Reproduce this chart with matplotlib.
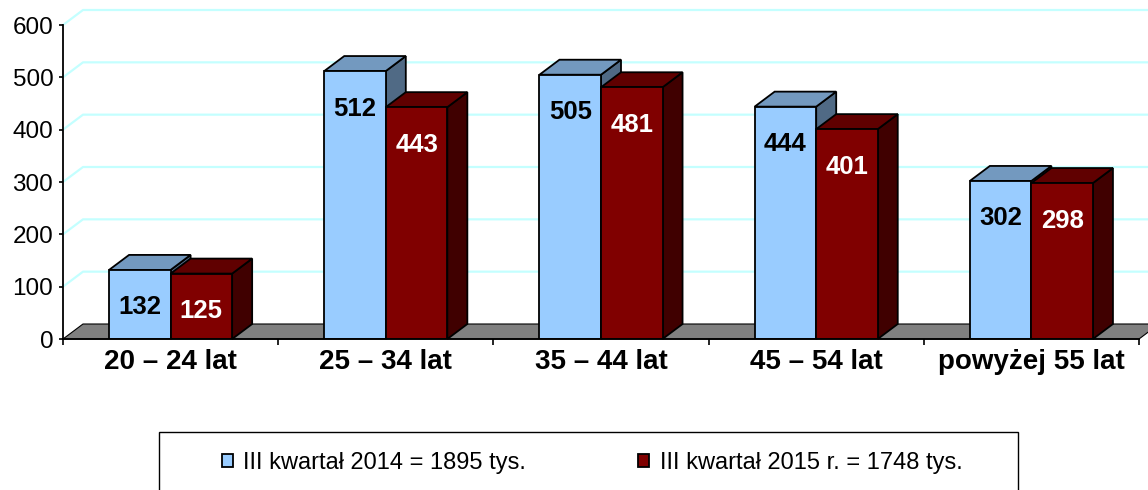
import matplotlib
matplotlib.use("Agg")
import matplotlib.pyplot as plt
from matplotlib.patches import Polygon, Rectangle, Patch
import numpy as np

plt.rcParams['font.family'] = ['Liberation Sans', 'DejaVu Sans']

# ---- data ----
categories = ['20 – 24 lat', '25 – 34 lat', '35 – 44 lat', '45 – 54 lat', 'powyżej 55 lat']
values_2014 = [132, 512, 505, 444, 302]
values_2015 = [125, 443, 481, 401, 298]
series_labels = ['III kwartał 2014 = 1895 tys.', 'III kwartał 2015 r. = 1748 tys.']
y_ticks = [0, 100, 200, 300, 400, 500, 600]

# ---- styles ----
BLUE_FRONT, BLUE_TOP, BLUE_SIDE = '#99ccff', '#7399bf', '#506a85'
RED_FRONT, RED_TOP, RED_SIDE = '#800000', '#600000', '#400000'
GRID = '#c4ffff'

W, H = 1148, 490
fig = plt.figure(figsize=(W / 100, H / 100), dpi=100)
ax = fig.add_axes([63 / W, 1 - 339 / H, 1076 / W, 314 / H])
ax.set_xlim(-0.5, len(categories) - 0.5)
ax.set_ylim(y_ticks[0], y_ticks[-1])

# depth offset: 20 px right, 15 px up, converted to data units
px_per_x = 1076 / len(categories)
px_per_y = 314 / (y_ticks[-1] - y_ticks[0])
DX = 20 / px_per_x
DY = 15 / px_per_y

xmin, xmax = ax.get_xlim()

# back-wall gridlines with side-wall diagonal
for v in y_ticks[1:]:
    ax.plot([xmin, xmin + DX, xmax + DX + 0.2], [v, v + DY, v + DY],
            color=GRID, lw=1.6, clip_on=False, zorder=0.5)

# floor
ax.add_patch(Polygon([(xmin, 0), (xmax, 0), (xmax + DX, DY), (xmin + DX, DY)],
                     closed=True, fc='#808080', ec='black', lw=0.8,
                     clip_on=False, zorder=1))

x = np.arange(len(categories))
bw = 0.286
EDGE_LW = 1.3


def faces(xl, h, top, side, z):
    ax.add_patch(Polygon([(xl + bw, 0), (xl + bw + DX, DY), (xl + bw + DX, h + DY), (xl + bw, h)],
                         closed=True, fc=side, ec='black', lw=EDGE_LW, clip_on=False, zorder=z))
    ax.add_patch(Polygon([(xl, h), (xl + bw, h), (xl + bw + DX, h + DY), (xl + DX, h + DY)],
                         closed=True, fc=top, ec='black', lw=EDGE_LW, clip_on=False, zorder=z))


for i in range(len(categories)):
    faces(x[i] - bw, values_2014[i], BLUE_TOP, BLUE_SIDE, 2)
    faces(x[i], values_2015[i], RED_TOP, RED_SIDE, 3)

b1 = ax.bar(x - bw / 2, values_2014, width=bw, color=BLUE_FRONT, edgecolor='black',
            lw=EDGE_LW, zorder=2.1, label=series_labels[0])
b2 = ax.bar(x + bw / 2, values_2015, width=bw, color=RED_FRONT, edgecolor='black',
            lw=EDGE_LW, zorder=3.1, label=series_labels[1])

for i in range(len(categories)):
    ax.annotate(str(values_2014[i]), (x[i] - bw / 2, values_2014[i]), xytext=(0, -27),
                textcoords='offset points', ha='center', va='center',
                fontsize=18.5, fontweight='bold', color='black', zorder=6)
    ax.annotate(str(values_2015[i]), (x[i] + bw / 2, values_2015[i]), xytext=(0, -27),
                textcoords='offset points', ha='center', va='center',
                fontsize=18.5, fontweight='bold', color='white', zorder=6)

# axes styling
for s in ['top', 'right']:
    ax.spines[s].set_visible(False)
ax.spines['left'].set_linewidth(1.3)
ax.spines['bottom'].set_linewidth(1.3)
ax.spines['left'].set_zorder(4)
ax.spines['bottom'].set_zorder(4)
ax.set_yticks(y_ticks)
ax.tick_params(axis='y', length=3, width=1.2, pad=4, labelsize=17.5)
ax.set_xticks(x)
ax.set_xticklabels(categories, fontsize=20, fontweight='bold')
ax.set_xticks(np.arange(len(categories) + 1) - 0.5, minor=True)
ax.tick_params(axis='x', which='major', length=0, pad=7)
ax.tick_params(axis='x', which='minor', length=4, width=1.2)
ax.set_facecolor('none')

# legend box
fig.patches.append(Rectangle((159 / W, -0.2), (1018 - 159) / W, (490 - 432) / H + 0.2,
                             transform=fig.transFigure, fc='white', ec='black', lw=1.0))
handles = [Patch(fc=BLUE_FRONT, ec='black', lw=1.3), Patch(fc=RED_FRONT, ec='black', lw=1.3)]
fig.legend(handles, series_labels, loc='center left', bbox_to_anchor=(222 / W, 1 - 463 / H),
           ncol=2, frameon=False, fontsize=17, borderpad=0, borderaxespad=0,
           handlelength=0.45, handleheight=0.45, handletextpad=0.45, columnspacing=4.75)

fig.savefig('out.png', dpi=100)
